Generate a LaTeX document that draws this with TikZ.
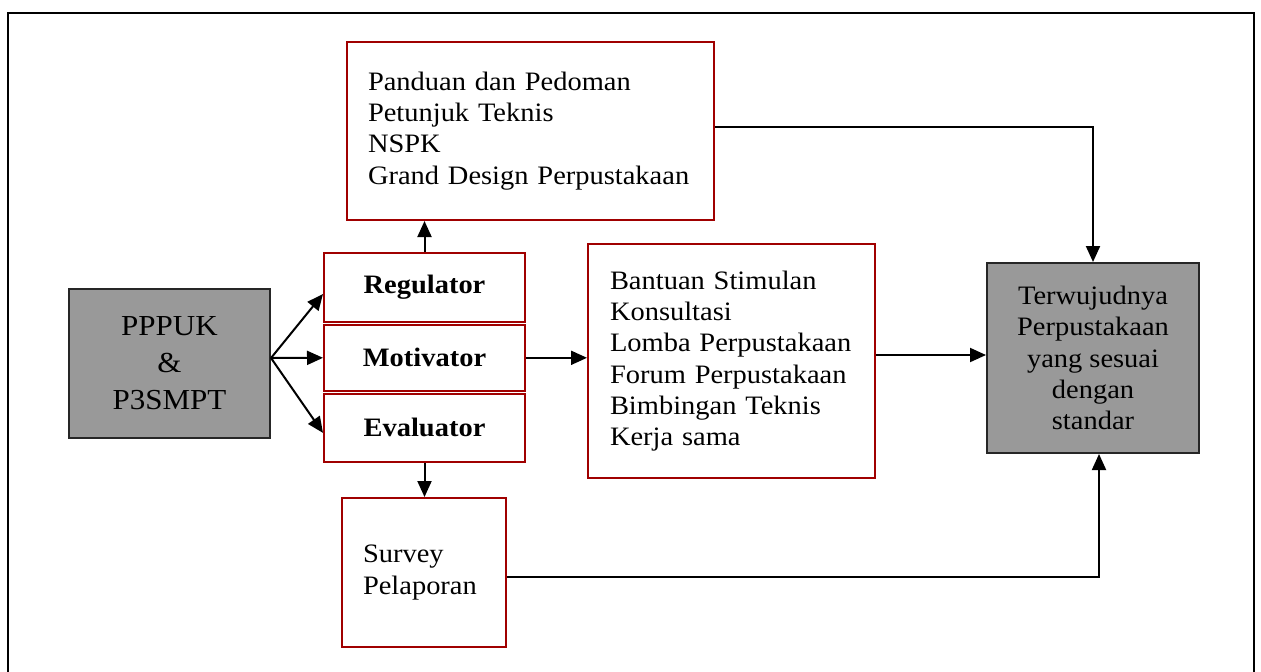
\documentclass[tikz,border=0pt]{standalone}
\usepackage{fontspec}
\setmainfont{Liberation Serif}[FakeStretch=1.07]
\usetikzlibrary{arrows.meta,calc}
\definecolor{boxred}{RGB}{160,0,0}
\definecolor{boxgray}{RGB}{153,153,153}
\begin{document}
\begin{tikzpicture}[x=0.5pt,y=-0.5pt,
  redbox/.style={draw=boxred,line width=1pt,fill=white,anchor=north west,inner sep=0pt,font=\fontsize{13.3}{15.6}\selectfont},
  graybox/.style={draw=black!85,line width=1pt,fill=boxgray,anchor=north west,inner sep=0pt,align=center},
  rolebox/.style={redbox,minimum width=100.5pt,font=\fontsize{13.3}{15.6}\selectfont\bfseries},
  conn/.style={line width=1pt,-{Triangle[length=8pt,width=7pt]}},
  frame/.style={line width=1.3pt}]
\useasboundingbox (0,0) rectangle (1261,671);
\draw[frame] (8,675) -- (8,13) -- (1254,13) -- (1254,675);

\node[redbox,minimum width=183.5pt,minimum height=89pt,text width=162.5pt,align=left] (pan) at (346,41)
  {Panduan dan Pedoman\\Petunjuk Teknis\\NSPK\\Grand Design Perpustakaan};

\node[rolebox,minimum height=34.5pt] (reg) at (323,252) {Regulator};
\node[rolebox,minimum height=33.3pt] (mot) at (323,323.5) {Motivator};
\node[rolebox,minimum height=34.1pt] (eva) at (323,392.8) {Evaluator};

\node[graybox,minimum width=100.5pt,minimum height=74.5pt,font=\fontsize{14.5}{18.5}\selectfont] (ppp) at (68,288)
  {PPPUK\\\&\\P3SMPT};

\node[redbox,minimum width=143.5pt,minimum height=117pt,text width=121.5pt,align=left] (ban) at (587,243)
  {Bantuan Stimulan\\Konsultasi\\Lomba Perpustakaan\\Forum Perpustakaan\\Bimbingan Teknis\\Kerja sama};

\node[redbox,minimum width=82pt,minimum height=74.5pt,text width=61pt,align=left] (sur) at (341,497)
  {Survey\\Pelaporan};

\node[graybox,minimum width=106pt,minimum height=95pt,font=\fontsize{13.3}{15.6}\selectfont] (ter) at (986,262)
  {Terwujudnya\\Perpustakaan\\yang sesuai\\dengan\\standar};

\coordinate (o) at ($(ppp.east)+(0,-5.5)$);
\draw[conn] (o) -- ($(reg.west)+(0,6.5)$);
\draw[conn] (o) -- (mot.west);
\draw[conn] (o) -- ($(eva.west)+(0,5)$);

\draw[conn] (reg.north) -- (reg.north |- pan.south);
\draw[conn] (eva.south) -- (eva.south |- sur.north);
\draw[conn] (mot.east) -- (mot.east -| ban.west);
\draw[conn] ($(ban.east)+(0,-6)$) -- ($(ter.west)+(0,-3)$);
\draw[conn] ($(pan.east)+(0,-4)$) -| (ter.north);
\draw[conn] ($(sur.east)+(0,4)$) -| ($(ter.south)+(6,0)$);
\end{tikzpicture}
\end{document}
